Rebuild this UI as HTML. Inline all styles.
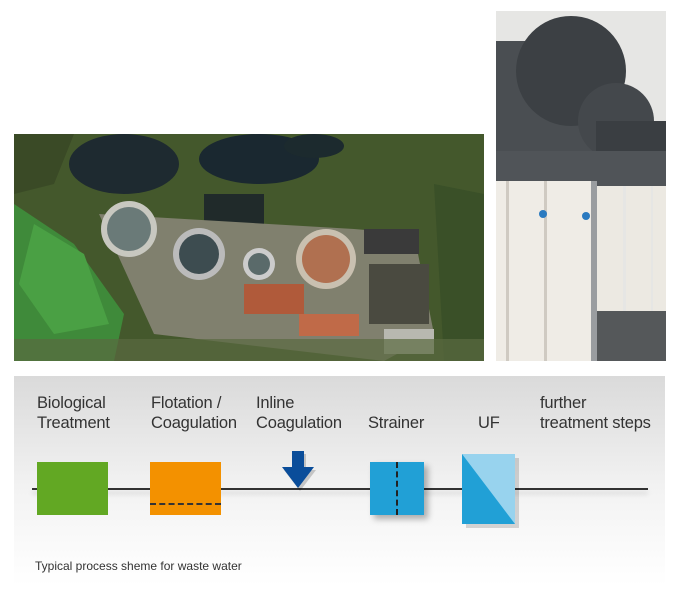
<!DOCTYPE html>
<html><head><meta charset="utf-8"><style>
body{margin:0;width:687px;height:597px;background:#fff;position:relative;overflow:hidden;font-family:"Liberation Sans",sans-serif}
.a{position:absolute}
.lbl{position:absolute;font-size:16.5px;color:#333;line-height:20px;letter-spacing:-0.2px}
</style></head><body>
<svg class="a" style="left:14px;top:134px" width="470" height="227" viewBox="0 0 470 227">
<rect width="470" height="227" fill="#44582c"/>
<path d="M0 70 L60 110 L110 180 L100 227 L0 227Z" fill="#3f8a3a"/>
<path d="M20 90 L70 120 L95 190 L40 200 L5 150Z" fill="#4aa044"/>
<ellipse cx="110" cy="30" rx="55" ry="30" fill="#1e2a30"/>
<ellipse cx="245" cy="25" rx="60" ry="25" fill="#1a2830"/>
<ellipse cx="300" cy="12" rx="30" ry="12" fill="#1c2a2e"/>
<rect x="190" y="60" width="60" height="30" fill="#202a2a"/>
<path d="M85 80 L340 95 L400 100 L420 200 L370 227 L140 200 Z" fill="#80806e"/>
<circle cx="115" cy="95" r="28" fill="#c8c8c0"/><circle cx="115" cy="95" r="22" fill="#6a7a78"/>
<circle cx="185" cy="120" r="26" fill="#bbb"/><circle cx="185" cy="120" r="20" fill="#3d4c50"/>
<circle cx="245" cy="130" r="16" fill="#ccc"/><circle cx="245" cy="130" r="11" fill="#5a6a6a"/>
<circle cx="312" cy="125" r="30" fill="#c9c0b0"/><circle cx="312" cy="125" r="24" fill="#b07050"/>
<rect x="350" y="95" width="55" height="25" fill="#3a3a3a"/>
<rect x="355" y="130" width="60" height="60" fill="#4a4a40"/>
<rect x="230" y="150" width="60" height="30" fill="#b05a3a"/>
<rect x="285" y="180" width="60" height="22" fill="#c06a48"/>
<rect x="370" y="195" width="50" height="25" fill="#b8b8b0"/>
<path d="M420 50 L470 60 L470 227 L430 227 Z" fill="#3a5028"/>
<path d="M0 0 L60 0 L40 50 L0 60Z" fill="#3a4a26"/>
<rect x="0" y="205" width="470" height="22" fill="#5a6a40" opacity=".7"/>
</svg>
<svg class="a" style="left:496px;top:11px" width="170" height="350" viewBox="0 0 170 350">
<rect width="170" height="350" fill="#e6e6e4"/>
<rect x="0" y="30" width="110" height="140" fill="#4a4e52"/>
<circle cx="75" cy="60" r="55" fill="#3c4044"/>
<circle cx="120" cy="110" r="38" fill="#44484c"/>
<rect x="100" y="110" width="70" height="30" fill="#3a3e42"/>
<rect x="0" y="140" width="170" height="35" fill="#505458"/>
<rect x="0" y="170" width="95" height="180" fill="#efece6"/>
<rect x="10" y="170" width="3" height="180" fill="#cfcac2"/>
<rect x="48" y="170" width="3" height="180" fill="#cfcac2"/>
<rect x="95" y="170" width="6" height="180" fill="#9a9da0"/>
<rect x="101" y="175" width="26" height="130" fill="#ece9e2"/>
<rect x="130" y="175" width="25" height="130" fill="#ece9e2"/>
<rect x="157" y="175" width="13" height="130" fill="#ece9e2"/>
<rect x="101" y="300" width="69" height="50" fill="#55585a"/>
<circle cx="90" cy="205" r="4" fill="#2a7ac0"/><circle cx="47" cy="203" r="4" fill="#2a7ac0"/>
</svg>
<div class="a" style="left:14px;top:376px;width:651px;height:210px;background:linear-gradient(#dadada,#f3f3f3 55%,#fff)"></div>
<div class="a" style="left:32px;top:488px;width:616px;height:2px;background:#333;box-shadow:0 4px 5px rgba(0,0,0,.15)"></div>
<div class="a" style="left:37px;top:462px;width:71px;height:53px;background:#62a823"></div>
<div class="a" style="left:150px;top:462px;width:71px;height:53px;background:#f39100"></div>
<div class="a" style="left:150px;top:503px;width:71px;border-top:2px dashed #333"></div>
<svg class="a" style="left:282px;top:451px" width="36" height="40"><path d="M12 3 H24 V19 H34 L18 40 L2 19 H12Z" fill="#000" opacity=".18"/><path d="M10 0 H22 V16 H32 L16 37 L0 16 H10Z" fill="#0a4d9a"/></svg>
<div class="a" style="left:370px;top:462px;width:54px;height:53px;background:#21a0d6;box-shadow:4px 4px 6px rgba(0,0,0,.3)"></div>
<div class="a" style="left:396px;top:462px;height:53px;border-left:2px dashed #222"></div>
<svg class="a" style="left:462px;top:454px" width="58" height="75"><rect x="4" y="4" width="53" height="70" fill="#000" opacity=".15"/><rect x="0" y="0" width="53" height="70" fill="#98d3ee"/><path d="M0 0 L53 70 L0 70Z" fill="#21a0d6"/></svg>
<div class="lbl" style="left:37px;top:393px">Biological<br>Treatment</div>
<div class="lbl" style="left:151px;top:393px">Flotation /<br>Coagulation</div>
<div class="lbl" style="left:256px;top:393px">Inline<br>Coagulation</div>
<div class="lbl" style="left:368px;top:413px">Strainer</div>
<div class="lbl" style="left:478px;top:413px">UF</div>
<div class="lbl" style="left:540px;top:393px">further<br>treatment steps</div>
<div class="a" style="left:35px;top:559px;font-size:12px;color:#333">Typical process sheme for waste water</div>
</body></html>
